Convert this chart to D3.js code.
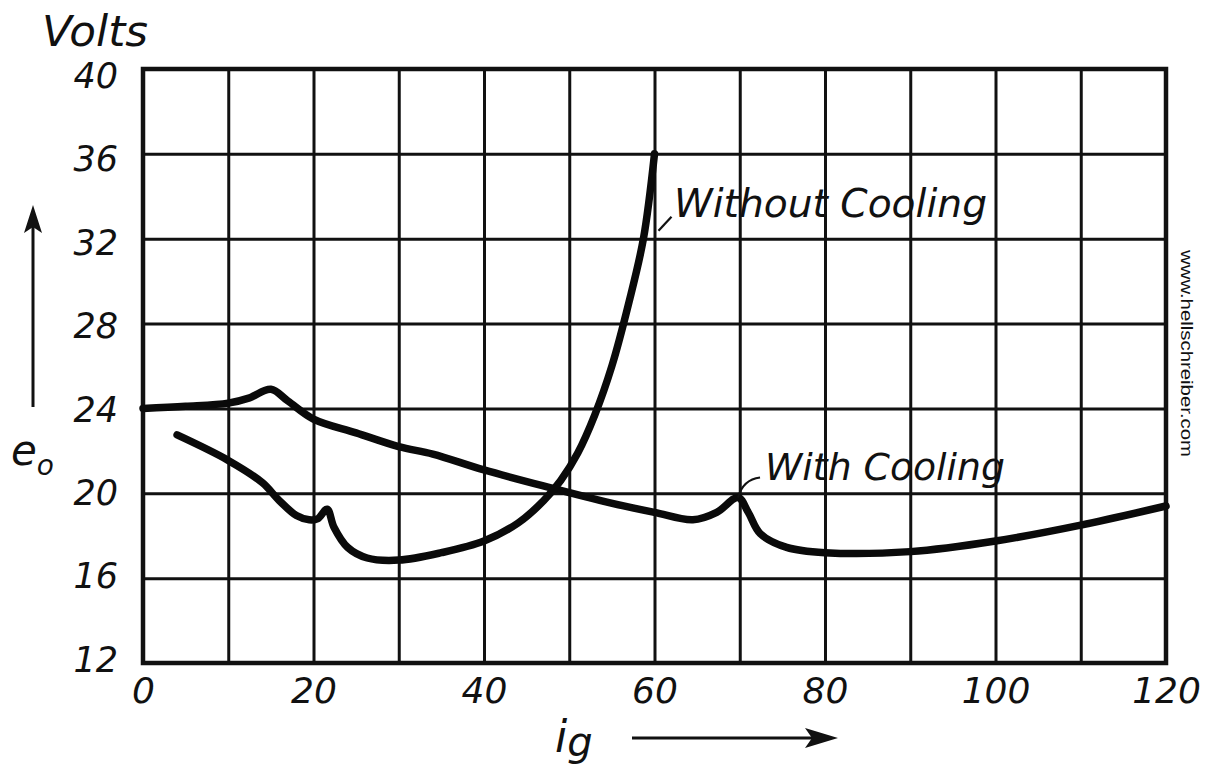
<!DOCTYPE html>
<html>
<head>
<meta charset="utf-8">
<script src="https://cdn.jsdelivr.net/npm/d3@7"></script>
<style>
  html, body { margin: 0; padding: 0; background: #fff; }
  svg { display: block; }
  text { font-family: "DejaVu Sans", sans-serif; font-style: italic; fill: #111; }
</style>
</head>
<body>
<svg id="chart" width="1207" height="769"></svg>
<script>
// Grid and tick values
const xGrid = [0, 10, 20, 30, 40, 50, 60, 70, 80, 90, 100, 110, 120];
const xLabels = [0, 20, 40, 60, 80, 100, 120];
const yGrid = [12, 16, 20, 24, 28, 32, 36, 40];

// e_o (volts) against i_g, with cooling
const igWith = [0, 5, 10, 12.5, 15, 17, 20, 25, 30, 34, 40, 47.4, 54.8, 60, 64.5, 67.3, 69.8, 71, 72.4, 75.5, 80, 90, 100, 110, 120];
const eoWith = [24.0, 24.1, 24.25, 24.5, 24.9, 24.35, 23.5, 22.85, 22.2, 21.85, 21.1, 20.3, 19.55, 19.1, 18.75, 19.1, 19.8, 19.1, 18.1, 17.45, 17.2, 17.25, 17.75, 18.5, 19.4];

// e_o (volts) against i_g, without cooling
const igWithout = [4, 10, 14, 16, 18, 19.5, 20.5, 21.6, 22.4, 24, 26.3, 30, 35, 40, 44, 47, 49, 51, 53, 55, 57, 58.7, 60];
const eoWithout = [22.75, 21.55, 20.5, 19.65, 18.95, 18.75, 18.8, 19.25, 18.4, 17.45, 16.95, 16.85, 17.2, 17.75, 18.6, 19.65, 20.6, 21.9, 23.7, 26.0, 29.0, 32.0, 36.0];

const svg = d3.select("#chart");
const plotLeft = 143, plotRight = 1166, plotTop = 69, plotBottom = 663;

const x = d3.scaleLinear().domain([0, 120]).range([plotLeft, plotRight]);
const y = d3.scaleLinear().domain([12, 40]).range([plotBottom, plotTop]);

// Vertical grid + bottom tick labels
const gx = svg.append("g")
  .attr("transform", `translate(0,${plotBottom})`)
  .call(d3.axisBottom(x).tickValues(xGrid).tickSize(-(plotBottom - plotTop))
        .tickFormat(d => xLabels.includes(d) ? d : ""));
gx.select(".domain").remove();
gx.selectAll(".tick line").attr("stroke", "#111").attr("stroke-width", 3);
gx.selectAll(".tick text")
  .attr("y", 40).attr("dy", 0)
  .attr("font-size", 36)
  .style("font-family", '"DejaVu Sans", sans-serif')
  .style("font-style", "italic")
  .attr("fill", "#111");

// Horizontal grid + left tick labels (hand lettering drifts slightly down the scale)
const gy = svg.append("g")
  .attr("transform", `translate(${plotLeft},0)`)
  .call(d3.axisLeft(y).tickValues(yGrid).tickSize(-(plotRight - plotLeft)));
gy.select(".domain").remove();
gy.selectAll(".tick line").attr("stroke", "#111").attr("stroke-width", 3);
gy.selectAll(".tick text")
  .attr("x", -25)
  .attr("y", d => (d - 24) * 0.35)
  .attr("dy", "0.36em")
  .attr("font-size", 35)
  .style("font-family", '"DejaVu Sans", sans-serif')
  .style("font-style", "italic")
  .attr("fill", "#111");

// Plot frame
svg.append("rect")
  .attr("x", plotLeft).attr("y", plotTop)
  .attr("width", plotRight - plotLeft).attr("height", plotBottom - plotTop)
  .attr("fill", "none").attr("stroke", "#111").attr("stroke-width", 4.5);

// Curves
const line = d3.line()
  .x(d => x(d[0])).y(d => y(d[1]))
  .curve(d3.curveCatmullRom.alpha(0.5));

const seriesWith = d3.zip(igWith, eoWith);
const seriesWithout = d3.zip(igWithout, eoWithout);

[seriesWith, seriesWithout].forEach(s => {
  svg.append("path")
    .datum(s)
    .attr("d", line)
    .attr("fill", "none")
    .attr("stroke", "#0a0a0a")
    .attr("stroke-width", 7.5)
    .attr("stroke-linejoin", "round")
    .attr("stroke-linecap", "round");
});

// Curve captions with leader strokes
const tipWithout = seriesWithout[seriesWithout.length - 1];
svg.append("path")
  .attr("d", `M${x(tipWithout[0]) + 4},${y(tipWithout[1]) + 77} L${x(tipWithout[0]) + 17},${y(tipWithout[1]) + 63}`)
  .attr("stroke", "#111").attr("stroke-width", 2.2).attr("fill", "none");
svg.append("text")
  .attr("x", 674).attr("y", 217)
  .attr("font-size", 39)
  .attr("textLength", 313).attr("lengthAdjust", "spacingAndGlyphs")
  .text("Without Cooling");

const peakWith = seriesWith[16];
const pkx = x(peakWith[0]), pky = y(peakWith[1]);
svg.append("path")
  .attr("d", `M${pkx},${pky} Q${pkx + 5},${pky - 18} ${pkx + 22},${pky - 20}`)
  .attr("stroke", "#111").attr("stroke-width", 2.2).attr("fill", "none");
svg.append("text")
  .attr("x", 765).attr("y", 480)
  .attr("font-size", 38)
  .attr("textLength", 240).attr("lengthAdjust", "spacingAndGlyphs")
  .text("With Cooling");

// Axis titles
svg.append("text")
  .attr("x", 42).attr("y", 46)
  .attr("font-size", 42)
  .attr("textLength", 106).attr("lengthAdjust", "spacingAndGlyphs")
  .text("Volts");

const eo = svg.append("text").attr("x", 11).attr("y", 465).attr("font-size", 42);
eo.append("tspan").text("e");
eo.append("tspan").attr("font-size", 28).attr("dy", 10).text("o");

const ig = svg.append("text").attr("x", 555).attr("y", 752).attr("font-size", 44);
ig.append("tspan").text("i");
ig.append("tspan").attr("font-size", 40).attr("dy", 4).text("g");

// Direction arrows
svg.append("line")
  .attr("x1", 33).attr("y1", 407).attr("x2", 33).attr("y2", 222)
  .attr("stroke", "#111").attr("stroke-width", 3);
svg.append("path")
  .attr("d", "M33,205 L42,233 L33,227 L24,233 Z")
  .attr("fill", "#111");

svg.append("line")
  .attr("x1", 632).attr("y1", 738).attr("x2", 820).attr("y2", 738)
  .attr("stroke", "#111").attr("stroke-width", 3);
svg.append("path")
  .attr("d", "M838,738 L805,728 L812,738 L805,748 Z")
  .attr("fill", "#111");

// Vertical site credit
svg.append("text")
  .attr("transform", "translate(1181,250) rotate(90)")
  .attr("font-size", 17)
  .attr("textLength", 207).attr("lengthAdjust", "spacingAndGlyphs")
  .style("font-family", '"Liberation Sans", Arial, sans-serif')
  .style("font-style", "normal")
  .attr("fill", "#444")
  .text("www.hellschreiber.com");
</script>
</body>
</html>
